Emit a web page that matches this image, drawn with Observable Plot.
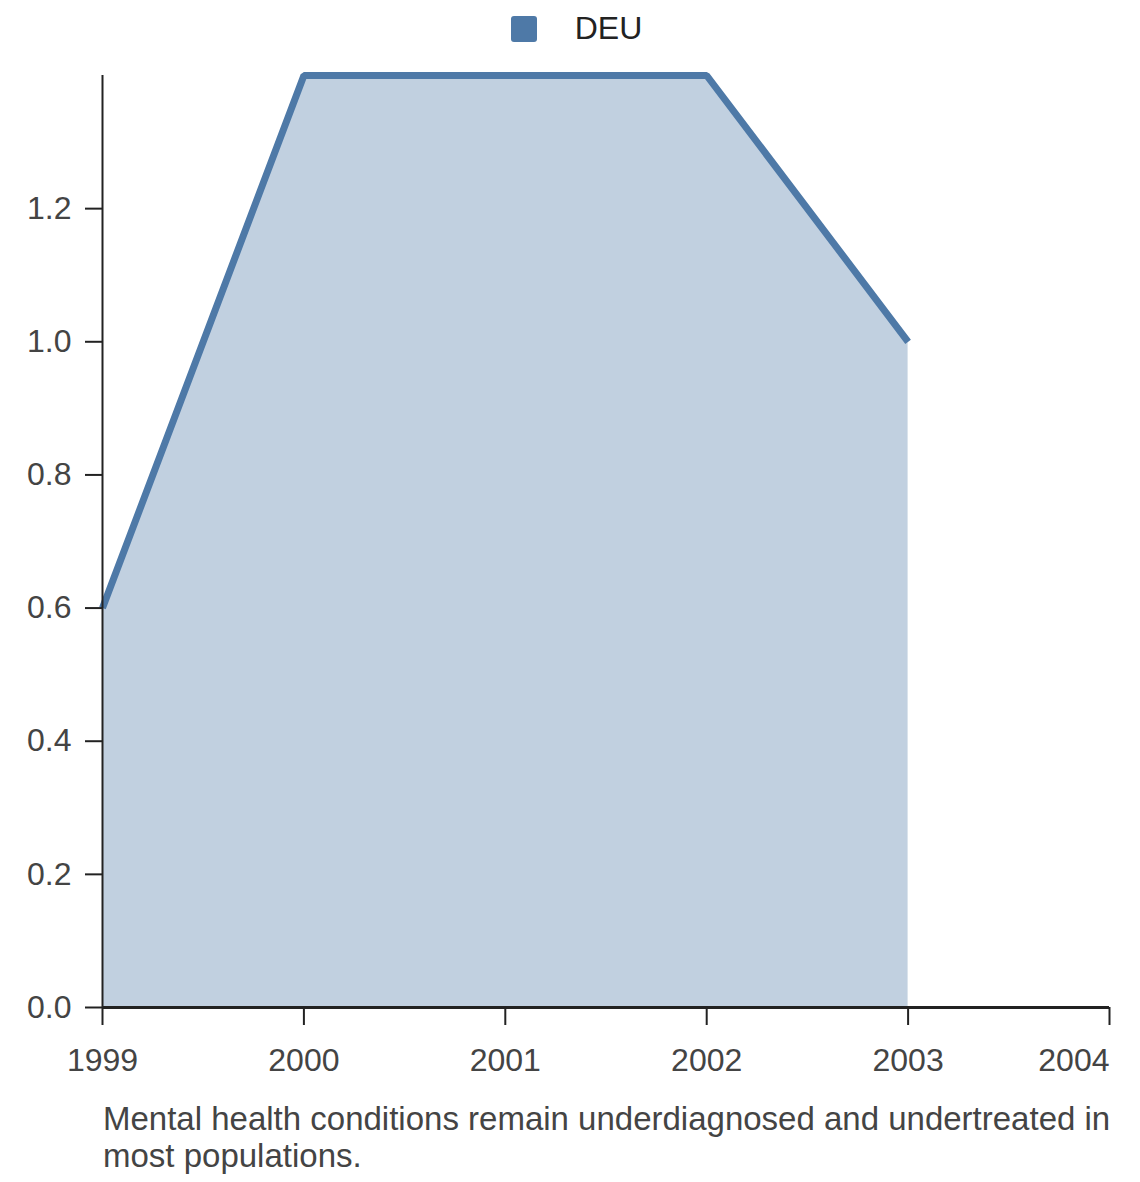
<!DOCTYPE html>
<html>
<head>
<meta charset="utf-8">
<script src="https://cdn.jsdelivr.net/npm/d3@7"></script>
<script src="https://cdn.jsdelivr.net/npm/@observablehq/plot@0.6"></script>
<style>
  body { margin: 0; background: #fff; font-family: "Liberation Sans", Arial, sans-serif; }
  #legend { height: 57px; display: flex; align-items: center; justify-content: center; padding-left: 13px; font-size: 32px; color: #222; }
  #legend .sw { width: 26px; height: 26px; background: #4e79a7; border-radius: 3px; margin-right: 38px; }
  #caption { margin-left: 103px; width: 1030px; font-size: 33px; line-height: 37px; color: #444; margin-top: 13px; }
</style>
</head>
<body>
<div id="legend"><span class="sw"></span><span>DEU</span></div>
<div id="chart"></div>
<div id="caption"></div>
<script>
const series = "DEU";
const years = [1999, 2000, 2001, 2002, 2003];
const values = [0.6, 1.4, 1.4, 1.4, 1.0];
const xTicks = [1999, 2000, 2001, 2002, 2003, 2004];
const yTicks = [0, 0.2, 0.4, 0.6, 0.8, 1.0, 1.2];
const captionText = "Mental health conditions remain underdiagnosed and undertreated in most populations.";
const color = "#4e79a7";

const data = years.map((y, i) => ({year: y, value: values[i], series}));
const lastTick = xTicks[xTicks.length - 1];
const innerTicks = xTicks.slice(0, -1);

const axisOpts = {tickFormat: d => String(d), tickSize: 18, tickPadding: 23, stroke: "#222", strokeWidth: 2, fill: "#444", fontSize: 32, label: null};

const chart = Plot.plot({
  width: 1140,
  height: 1030,
  marginLeft: 102,
  marginRight: 31,
  marginTop: 18,
  marginBottom: 80,
  style: {fontFamily: "'Liberation Sans', Arial, sans-serif", fontSize: "32px", background: "#fff"},
  x: {domain: [1999, 2004]},
  y: {domain: [0, 1.4]},
  marks: [
    Plot.areaY(data, {x: "year", y: "value", fill: color, fillOpacity: 0.35}),
    Plot.lineY(data, {x: "year", y: "value", stroke: color, strokeWidth: 7, strokeLinecap: "butt", strokeLinejoin: "miter"}),
    Plot.ruleX([1999], {y1: 0, y2: 1.4, stroke: "#222", strokeWidth: 2}),
    Plot.ruleY([0], {x1: 1999, x2: 2004, stroke: "#222", strokeWidth: 3}),
    Plot.axisX(innerTicks, axisOpts),
    Plot.axisX([lastTick], {...axisOpts, textAnchor: "end"}),
    Plot.axisY({ticks: yTicks, tickFormat: d => d.toFixed(1), tickSize: 17, tickPadding: 14, stroke: "#222", strokeWidth: 2, fill: "#444", fontSize: 32, label: null})
  ]
});
document.getElementById("chart").appendChild(chart);
document.getElementById("caption").textContent = captionText;
</script>
</body>
</html>
